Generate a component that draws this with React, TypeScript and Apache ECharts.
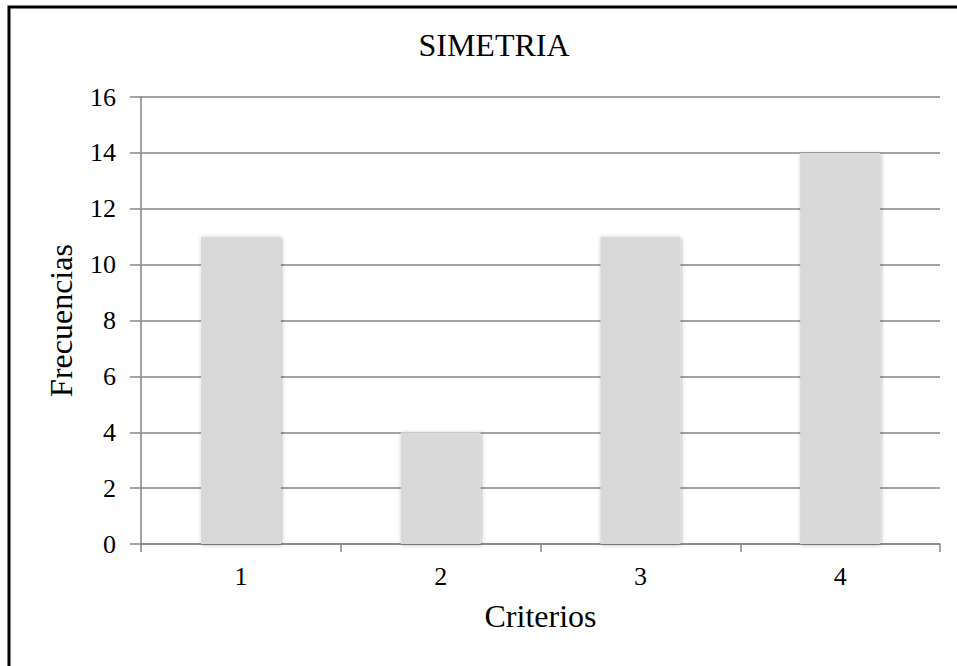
import React, { useEffect, useRef } from "react";
import * as echarts from "echarts";

const categories = ["1", "2", "3", "4"];
const frecuencias = [11, 4, 11, 14];
const yTicks = [0, 2, 4, 6, 8, 10, 12, 14, 16];
const title = "SIMETRIA";
const xName = "Criterios";
const yName = "Frecuencias";

export default function App() {
  const ref = useRef<HTMLDivElement>(null);
  useEffect(() => {
    if (!ref.current) return;
    const chart = echarts.init(ref.current, null, { renderer: "svg" });
    const serif = "'Liberation Serif', 'Times New Roman', serif";
    const axisGray = "#868686";
    chart.setOption({
      animation: false,
      backgroundColor: "#ffffff",
      title: {
        text: title,
        left: 489,
        top: 24,
        textAlign: "center",
        textStyle: { fontFamily: serif, fontSize: 32, fontWeight: "normal", color: "#000" },
      },
      graphic: [
        {
          type: "rect",
          shape: { x: 9, y: 7, width: 1000, height: 700 },
          style: { fill: "none", stroke: "#000", lineWidth: 3 },
          silent: true,
        },
      ],
      grid: { left: 141, right: 17, top: 97, bottom: 122, containLabel: false },
      xAxis: {
        type: "category",
        data: categories,
        name: xName,
        nameLocation: "middle",
        nameGap: 56,
        nameTextStyle: { fontFamily: serif, fontSize: 32, color: "#000", verticalAlign: "top" },
        axisLine: { lineStyle: { color: axisGray, width: 1.5 } },
        axisTick: { show: true, length: 8, alignWithLabel: false, lineStyle: { color: axisGray, width: 1.5 } },
        axisLabel: { fontFamily: serif, fontSize: 26, color: "#000", margin: 19 },
        splitLine: { show: false },
      },
      yAxis: {
        type: "value",
        min: yTicks[0],
        max: yTicks[yTicks.length - 1],
        interval: yTicks[1] - yTicks[0],
        name: yName,
        nameLocation: "middle",
        nameGap: 64,
        nameRotate: 90,
        nameTextStyle: { fontFamily: serif, fontSize: 32, color: "#000" },
        axisLine: { show: true, lineStyle: { color: axisGray, width: 1.5 } },
        axisTick: { show: true, length: 11, inside: false, lineStyle: { color: axisGray, width: 1.5 } },
        axisLabel: { fontFamily: serif, fontSize: 26, color: "#000", margin: 25 },
        splitLine: { show: true, lineStyle: { color: axisGray, width: 1.5 } },
      },
      series: [
        {
          type: "bar",
          data: frecuencias,
          barWidth: "40%",
          itemStyle: {
            color: "#d9d9d9",
            shadowBlur: 4,
            shadowColor: "rgba(0,0,0,0.3)",
            shadowOffsetX: 1,
            shadowOffsetY: 1,
          },
        },
      ],
    });
    return () => chart.dispose();
  }, []);
  return (
    <div
      ref={ref}
      style={{ position: "absolute", left: 0, top: 0, width: 957, height: 666 }}
    />
  );
}
